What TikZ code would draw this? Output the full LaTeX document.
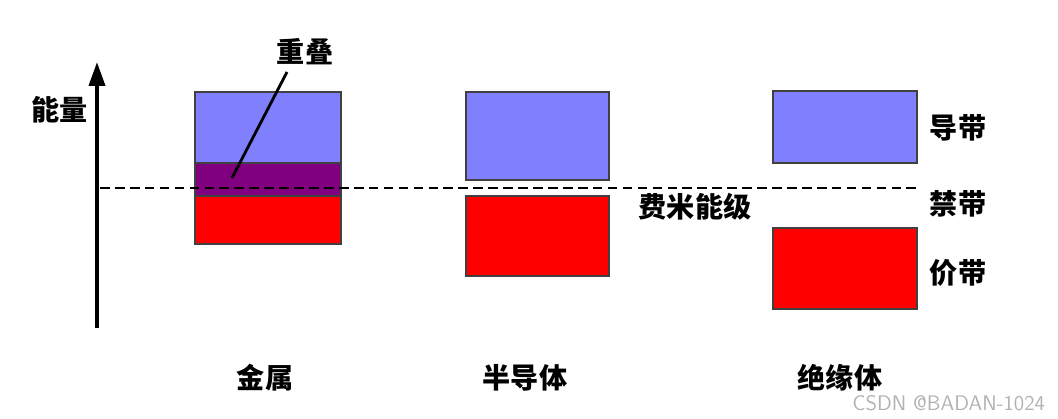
\documentclass[tikz,border=0pt]{standalone}
\usepackage{fontspec}
\usepackage{tikz}
\usetikzlibrary{positioning,arrows.meta}
\newfontfamily\cjk{Noto Sans CJK SC}
\definecolor{condband}{HTML}{8080FF}
\definecolor{overlapband}{HTML}{800080}
\definecolor{valband}{HTML}{FF0000}

\begin{document}
\begin{tikzpicture}[
  x=0.02cm, y=-0.02cm,
  font=\cjk\bfseries\fontsize{16}{19}\selectfont,
  band/.style={draw=black!75, line width=0.6pt, inner sep=0pt},
  lbl/.style={inner sep=1pt},
  axis/.style={-{Triangle[length=4.8mm, width=3.2mm]}, line width=2.2pt},
  fermi/.style={line width=1.7pt, dash pattern=on 5.5pt off 3pt},
  ]
  \useasboundingbox (0,0) rectangle (1058,419);

  % energy axis
  \coordinate (ybot) at (97,328);
  \coordinate (ytop) at (97,62);
  \draw[axis] (ybot) -- (ytop);
  \node[lbl] (energy) at (60,110) {能量};

  % metal
  \node[band, fill=condband, minimum width=146*0.02cm, minimum height=71*0.02cm] (mcond) at (268,127.5) {};
  \node[band, fill=overlapband, minimum width=146*0.02cm, minimum height=33*0.02cm] (mover) at (268,179.5) {};
  \node[band, fill=valband, minimum width=146*0.02cm, minimum height=48*0.02cm] (mval) at (268,220) {};

  % semiconductor
  \node[band, fill=condband, minimum width=143*0.02cm, minimum height=88*0.02cm] (scond) at (537.5,136) {};
  \node[band, fill=valband, minimum width=143*0.02cm, minimum height=80*0.02cm] (sval) at (537.5,236) {};

  % insulator
  \node[band, fill=condband, minimum width=144*0.02cm, minimum height=72*0.02cm] (icond) at (845,127) {};
  \node[band, fill=valband, minimum width=144*0.02cm, minimum height=81*0.02cm] (ival) at (845,268.5) {};

  % fermi level
  \coordinate (fstart) at (100,188);
  \coordinate (fend) at (917,188);
  \draw[fermi] (fstart) -- (fend);

  % overlap pointer
  \node[lbl] (overlap) at (305,52) {重叠};
  \coordinate (otip) at (232,178);
  \draw[line width=1.6pt] (287,72) -- (otip);

  % labels
  \node[lbl] (fermilbl) at (695,207) {费米能级};
  \node[lbl] (condlbl) at (958,128) {导带};
  \node[lbl] (gaplbl) at (958,204) {禁带};
  \node[lbl] (vallbl) at (958,273) {价带};
  \node[lbl] (metal) at (265,378) {金属};
  \node[lbl] (semi) at (525,378) {半导体};
  \node[lbl] (insul) at (840,378) {绝缘体};
  \node[lbl, font=\sffamily\fontsize{12}{14}\selectfont, text=black!30, anchor=east] (mark) at (1047,403) {CSDN @BADAN-1024};
\end{tikzpicture}
\end{document}
